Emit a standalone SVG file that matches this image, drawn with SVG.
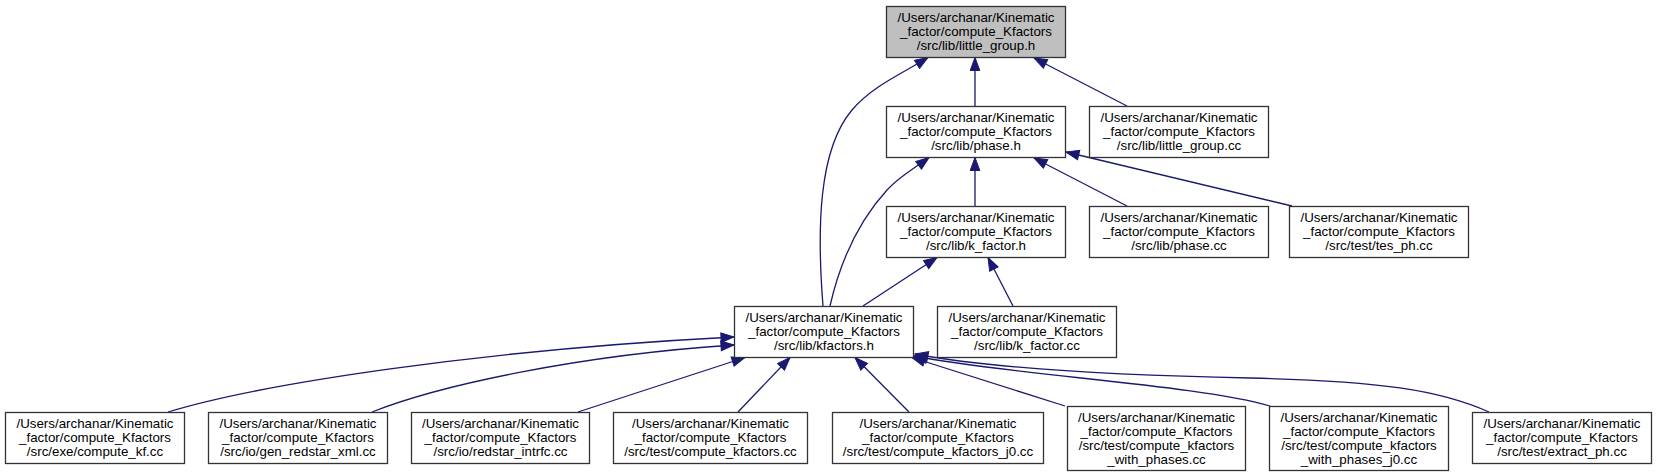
<svg xmlns="http://www.w3.org/2000/svg" width="1656" height="476" viewBox="0 0 1656 476">
<style>
.n rect{fill:#ffffff;stroke:#333333;stroke-width:1.3}
#n0 rect{fill:#bfbfbf}
.n text{font-family:"Liberation Sans",Helvetica,Arial,sans-serif;font-size:13.33px;fill:#000000;text-anchor:middle}
.e path{fill:none;stroke:#191970;stroke-width:1.3;marker-end:url(#ah)}
</style>
<defs>
<marker id="ah" markerUnits="userSpaceOnUse" viewBox="-14 -6 15 12" refX="0" refY="0" markerWidth="15" markerHeight="12" orient="auto">
<polygon points="0,0 -13,-4.8 -13,4.8" fill="#191970" stroke="#191970" stroke-width="1"/>
</marker>
</defs>
<rect width="1656" height="476" fill="#ffffff"/>
<g id="edges" class="e">
<path d="M975,106 L975,57.5"/>
<path d="M1127,106 L1034,58"/>
<path d="M823,306 C817,230 818,150 852,110 C872,86 905,72 928,57.5"/>
<path d="M975,206 L975,157.5"/>
<path d="M1127,206 L1034,158"/>
<path d="M1292,206 L1066,152"/>
<path d="M830,306 C840,262 857,223 887,190 C900,176 915,168 929,157.5"/>
<path d="M863,306 L937,257.5"/>
<path d="M1013,306 L988,257.5"/>
<path d="M168,412 C260,384 480,350 734,337"/>
<path d="M372,412 C440,385 580,355 734,345"/>
<path d="M578,412 L745,357.5"/>
<path d="M738,412 L790,357.5"/>
<path d="M909,412 L855,357.5"/>
<path d="M1065,406 L912,357.5"/>
<path d="M1270,406 C1200,385 1010,375 914,356"/>
<path d="M1489,412 C1440,390 1380,381 1250,378 C1100,375 990,368 915,354"/>
</g>
<g id="n0" class="n"><rect x="886.5" y="6.5" width="179" height="51"/><text x="976" y="22">/Users/archanar/Kinematic</text><text x="976" y="36">_factor/compute_Kfactors</text><text x="976" y="50">/src/lib/little_group.h</text></g>
<g id="n1" class="n"><rect x="886.5" y="106.5" width="179" height="51"/><text x="976" y="122">/Users/archanar/Kinematic</text><text x="976" y="136">_factor/compute_Kfactors</text><text x="976" y="150">/src/lib/phase.h</text></g>
<g id="n2" class="n"><rect x="1089.5" y="106.5" width="179" height="51"/><text x="1179" y="122">/Users/archanar/Kinematic</text><text x="1179" y="136">_factor/compute_Kfactors</text><text x="1179" y="150">/src/lib/little_group.cc</text></g>
<g id="n3" class="n"><rect x="886.5" y="206.5" width="179" height="51"/><text x="976" y="222">/Users/archanar/Kinematic</text><text x="976" y="236">_factor/compute_Kfactors</text><text x="976" y="250">/src/lib/k_factor.h</text></g>
<g id="n4" class="n"><rect x="1089.5" y="206.5" width="179" height="51"/><text x="1179" y="222">/Users/archanar/Kinematic</text><text x="1179" y="236">_factor/compute_Kfactors</text><text x="1179" y="250">/src/lib/phase.cc</text></g>
<g id="n5" class="n"><rect x="1289.5" y="206.5" width="179" height="51"/><text x="1379" y="222">/Users/archanar/Kinematic</text><text x="1379" y="236">_factor/compute_Kfactors</text><text x="1379" y="250">/src/test/tes_ph.cc</text></g>
<g id="n6" class="n"><rect x="734.5" y="306.5" width="179" height="51"/><text x="824" y="322">/Users/archanar/Kinematic</text><text x="824" y="336">_factor/compute_Kfactors</text><text x="824" y="350">/src/lib/kfactors.h</text></g>
<g id="n7" class="n"><rect x="937.5" y="306.5" width="179" height="51"/><text x="1027" y="322">/Users/archanar/Kinematic</text><text x="1027" y="336">_factor/compute_Kfactors</text><text x="1027" y="350">/src/lib/k_factor.cc</text></g>
<g id="n8" class="n"><rect x="5.5" y="412.5" width="179" height="51"/><text x="95" y="428">/Users/archanar/Kinematic</text><text x="95" y="442">_factor/compute_Kfactors</text><text x="95" y="456">/src/exe/compute_kf.cc</text></g>
<g id="n9" class="n"><rect x="208.5" y="412.5" width="179" height="51"/><text x="298" y="428">/Users/archanar/Kinematic</text><text x="298" y="442">_factor/compute_Kfactors</text><text x="298" y="456">/src/io/gen_redstar_xml.cc</text></g>
<g id="n10" class="n"><rect x="411.5" y="412.5" width="178" height="51"/><text x="500.5" y="428">/Users/archanar/Kinematic</text><text x="500.5" y="442">_factor/compute_Kfactors</text><text x="500.5" y="456">/src/io/redstar_intrfc.cc</text></g>
<g id="n11" class="n"><rect x="613.5" y="412.5" width="194" height="51"/><text x="710.5" y="428">/Users/archanar/Kinematic</text><text x="710.5" y="442">_factor/compute_Kfactors</text><text x="710.5" y="456">/src/test/compute_kfactors.cc</text></g>
<g id="n12" class="n"><rect x="832.5" y="412.5" width="211" height="51"/><text x="938" y="428">/Users/archanar/Kinematic</text><text x="938" y="442">_factor/compute_Kfactors</text><text x="938" y="456">/src/test/compute_kfactors_j0.cc</text></g>
<g id="n13" class="n"><rect x="1067.5" y="406.5" width="178" height="64"/><text x="1156.5" y="421.5">/Users/archanar/Kinematic</text><text x="1156.5" y="435.5">_factor/compute_Kfactors</text><text x="1156.5" y="449.5">/src/test/compute_kfactors</text><text x="1156.5" y="463.5">_with_phases.cc</text></g>
<g id="n14" class="n"><rect x="1269.5" y="406.5" width="179" height="64"/><text x="1359" y="421.5">/Users/archanar/Kinematic</text><text x="1359" y="435.5">_factor/compute_Kfactors</text><text x="1359" y="449.5">/src/test/compute_kfactors</text><text x="1359" y="463.5">_with_phases_j0.cc</text></g>
<g id="n15" class="n"><rect x="1472.5" y="412.5" width="179" height="51"/><text x="1562" y="428">/Users/archanar/Kinematic</text><text x="1562" y="442">_factor/compute_Kfactors</text><text x="1562" y="456">/src/test/extract_ph.cc</text></g>
</svg>
